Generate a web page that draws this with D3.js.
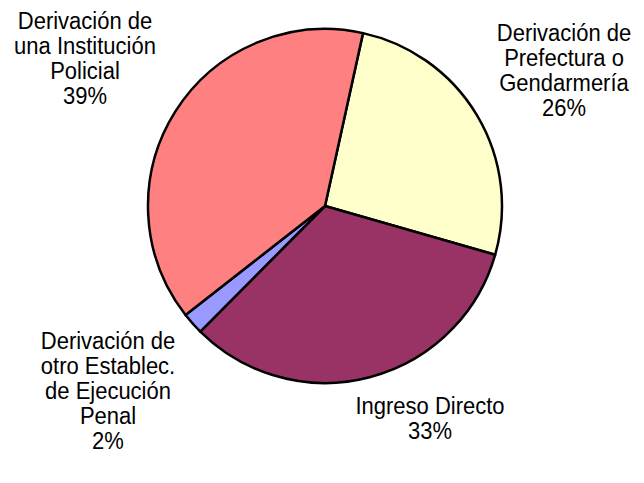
<!DOCTYPE html>
<html>
<head>
<meta charset="utf-8">
<script src="https://cdn.jsdelivr.net/npm/d3@7"></script>
<style>
  body { margin: 0; background: #fff; }
  text { font-family: "Liberation Sans", Arial, sans-serif; font-size: 22px; fill: #000; }
</style>
</head>
<body>
<div id="chart"></div>
<script>
// slice data, clockwise from the top
var categories = ["Derivación de Prefectura o Gendarmería", "Ingreso Directo",
    "Derivación de otro Establec. de Ejecución Penal", "Derivación de una Institución Policial"];
var values = [26, 33, 2, 39];
var colors = ["#FFFFCC", "#993366", "#9999FF", "#FF8080"];
var labelLines = [
    ["Derivación de", "Prefectura o", "Gendarmería", "26%"],
    ["Ingreso Directo", "33%"],
    ["Derivación de", "otro Establec.", "de Ejecución", "Penal", "2%"],
    ["Derivación de", "una Institución", "Policial", "39%"]
];
// label anchor (centre x, first baseline y)
var labelPos = [[564, 41], [430, 414], [108, 349], [85, 29]];

var width = 644, height = 483;
var cx = 325, cy = 206, radius = 177;
var startAngle = 12.4 * Math.PI / 180;

var svg = d3.select("#chart")
    .append("svg")
    .attr("width", width)
    .attr("height", height);

var pie = d3.pie()
    .sort(null)
    .value(d => d)
    .startAngle(startAngle)
    .endAngle(startAngle + 2 * Math.PI);

var arc = d3.arc()
    .innerRadius(0)
    .outerRadius(radius);

var g = svg.append("g")
    .attr("transform", "translate(" + cx + "," + cy + ")");

g.selectAll("path")
    .data(pie(values))
    .join("path")
    .attr("d", arc)
    .attr("fill", (d, i) => colors[i])
    .attr("stroke", "#000")
    .attr("stroke-width", 2.5)
    .attr("stroke-linejoin", "round");

// the original font is a bit taller than Liberation Sans, so stretch it a little
var lineHeight = 25, stretch = 1.07;
var labels = svg.append("g");
labelLines.forEach((lines, i) => {
    var t = labels.append("text")
        .attr("text-anchor", "middle")
        .attr("transform", "translate(" + labelPos[i][0] + "," + labelPos[i][1] + ") scale(1," + stretch + ")");
    lines.forEach((line, j) => {
        t.append("tspan")
            .attr("x", 0)
            .attr("dy", j === 0 ? 0 : lineHeight / stretch)
            .text(line);
    });
});
</script>
</body>
</html>
